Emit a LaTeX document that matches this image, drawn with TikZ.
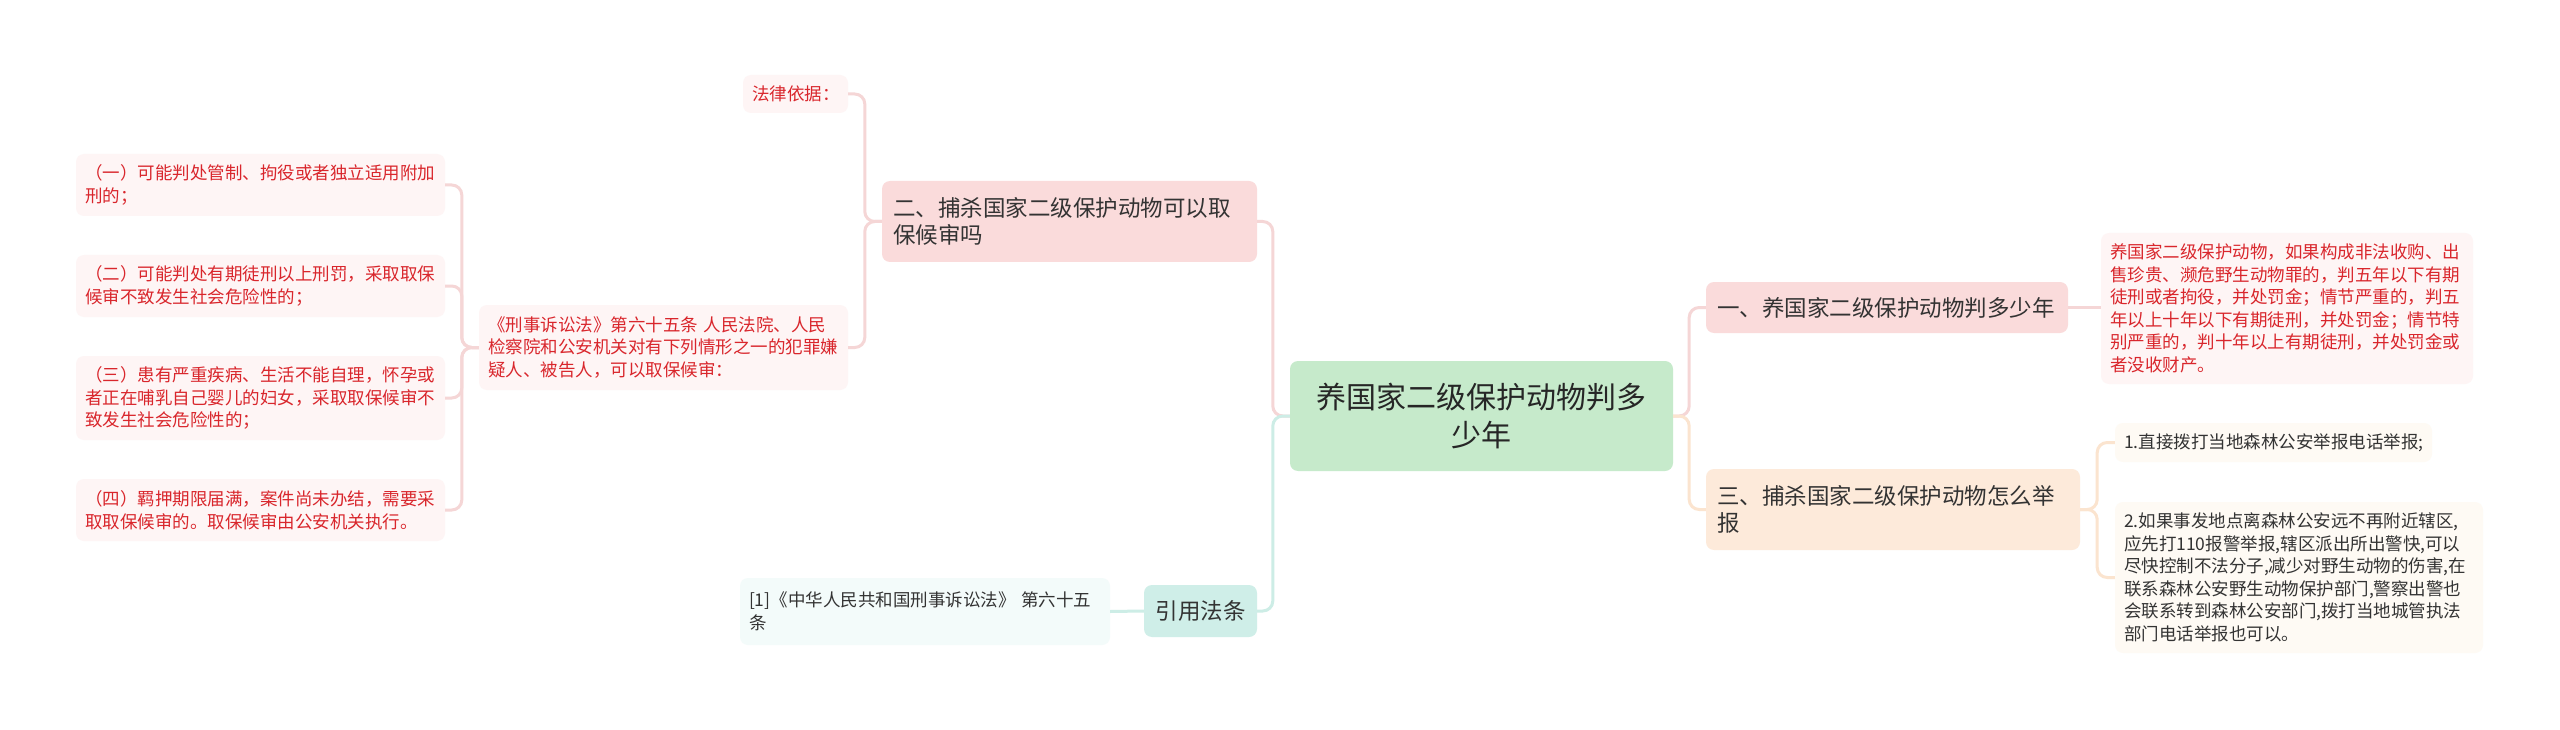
\documentclass[tikz,border=0pt]{standalone}
\usepackage{fontspec}
\setmainfont{Noto Sans CJK SC}
\usetikzlibrary{calc}
\definecolor{pinkfill}{HTML}{FADBDB}
\definecolor{pinkleaf}{HTML}{FEF5F5}
\definecolor{redtext}{HTML}{D9262C}
\definecolor{pinkline}{HTML}{F5D6D6}
\definecolor{rootfill}{HTML}{C6EACB}
\definecolor{peachfill}{HTML}{FDEADA}
\definecolor{peachleaf}{HTML}{FEFAF4}
\definecolor{peachline}{HTML}{FBE4CF}
\definecolor{mintfill}{HTML}{CFEEE8}
\definecolor{mintleaf}{HTML}{F3FBFA}
\definecolor{mintline}{HTML}{CDEDE6}
\definecolor{darktext}{HTML}{333333}
\tikzset{
  box/.style={rounded corners=8pt, inner xsep=9pt, inner ysep=0pt, align=left, anchor=center, text=darktext},
  leaffont/.style={font=\fontsize{17.5}{22.5}\selectfont},
  leafR/.style={box, leaffont, fill=pinkleaf, text=redtext},
  leafP/.style={box, leaffont, fill=peachleaf},
  leafM/.style={box, leaffont, fill=mintleaf},
  levelone/.style={box, font=\fontsize{22.5}{27}\selectfont, inner xsep=11pt},
  rootbox/.style={box, align=center, fill=rootfill, font=\fontsize{30}{38}\selectfont, text=black!85},
  conn/.style={line width=3pt, rounded corners=10pt},
  pinkconn/.style={conn, draw=pinkline},
  peachconn/.style={conn, draw=peachline},
  mintconn/.style={conn, draw=mintline}
}
\begin{document}
\begin{tikzpicture}[x=1pt,y=-1pt]
\useasboundingbox (0,0) rectangle (2560,730);
\fill[white] (0,0) rectangle (2560,730);

% root
\node[rootbox, text width=365pt, minimum height=110pt] (root) at (1481.5,416) {养国家二级保护动物判多\\少年};

% level one
\node[levelone, fill=pinkfill, text width=353pt, minimum height=81pt] (n2) at (1069.5,221.5) {二、捕杀国家二级保护动物可以取\\保候审吗};
\node[levelone, fill=pinkfill, text width=340pt, minimum height=51pt] (n1) at (1887,307.5) {一、养国家二级保护动物判多少年};
\node[levelone, fill=peachfill, text width=352pt, minimum height=81pt] (n3) at (1893,509.5) {三、捕杀国家二级保护动物怎么举\\报};
\node[levelone, fill=mintfill, align=center, text width=91pt, minimum height=52pt] (cite) at (1200.5,611) {引用法条};

% pink leaves (left)
\node[leafR, text width=87pt, minimum height=38pt] (law) at (795.5,94) {法律依据：};
\node[leafR, text width=351pt, minimum height=85pt] (xing) at (663.5,347.5) {《刑事诉讼法》第六十五条 人民法院、人民\\检察院和公安机关对有下列情形之一的犯罪嫌\\疑人、被告人，可以取保候审：};
\node[leafR, text width=351pt, minimum height=62pt] (c1) at (260.5,185) {（一）可能判处管制、拘役或者独立适用附加\\刑的；};
\node[leafR, text width=351pt, minimum height=62pt] (c2) at (260.5,286) {（二）可能判处有期徒刑以上刑罚，采取取保\\候审不致发生社会危险性的；};
\node[leafR, text width=351pt, minimum height=84pt] (c3) at (260.5,398) {（三）患有严重疾病、生活不能自理，怀孕或\\者正在哺乳自己婴儿的妇女，采取取保候审不\\致发生社会危险性的；};
\node[leafR, text width=351pt, minimum height=62pt] (c4) at (260.5,510) {（四）羁押期限届满，案件尚未办结，需要采\\取取保候审的。取保候审由公安机关执行。};

% right leaves
\node[leafR, text width=354pt, minimum height=151pt] (n1t) at (2287,308.5) {养国家二级保护动物，如果构成非法收购、出\\售珍贵、濒危野生动物罪的，判五年以下有期\\徒刑或者拘役，并处罚金；情节严重的，判五\\年以上十年以下有期徒刑，并处罚金；情节特\\别严重的，判十年以上有期徒刑，并处罚金或\\者没收财产。};
\node[leafP, text width=299pt, minimum height=39pt] (p1) at (2273.5,442.5) {1.直接拨打当地森林公安举报电话举报;};
\node[leafP, text width=350pt, minimum height=151pt] (p2) at (2299,577.5) {2.如果事发地点离森林公安远不再附近辖区,\\应先打110报警举报,辖区派出所出警快,可以\\尽快控制不法分子,减少对野生动物的伤害,在\\联系森林公安野生动物保护部门,警察出警也\\会联系转到森林公安部门,拨打当地城管执法\\部门电话举报也可以。};

% cite leaf
\node[leafM, text width=352pt, minimum height=67pt] (ref) at (925,611.5) {[1]《中华人民共和国刑事诉讼法》 第六十五\\条};

% connectors
\draw[pinkconn] (root.west) -- ++(-17,0) |- (n2.east);
\draw[mintconn] (root.west) -- ++(-17,0) |- (cite.east);
\draw[pinkconn] (root.east) -- ++(16,0) |- (n1.west);
\draw[peachconn] (root.east) -- ++(16,0) |- (n3.west);
\draw[pinkconn] (n1.east) -- (n1.east -| n1t.west);
\draw[pinkconn] (n2.west) -- ++(-17,0) |- (law.east);
\draw[pinkconn] (n2.west) -- ++(-17,0) |- (xing.east);
\draw[pinkconn] (xing.west) -- ++(-17,0) |- (c1.east);
\draw[pinkconn] (xing.west) -- ++(-17,0) |- (c2.east);
\draw[pinkconn] (xing.west) -- ++(-17,0) |- (c3.east);
\draw[pinkconn] (xing.west) -- ++(-17,0) |- (c4.east);
\draw[peachconn] (n3.east) -- ++(17,0) |- (p1.west);
\draw[peachconn] (n3.east) -- ++(17,0) |- (p2.west);
\draw[mintconn] (cite.west) -- (ref.east);
\end{tikzpicture}
\end{document}
